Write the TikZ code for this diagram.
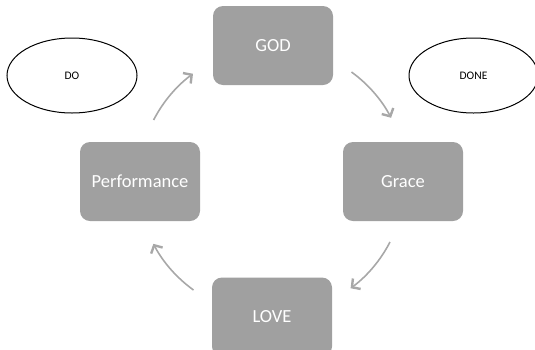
\documentclass[tikz,border=0pt]{standalone}
\usepackage{fontspec}
\setmainfont{Carlito}
\usetikzlibrary{shapes.geometric,arrows.meta,calc}
\definecolor{boxgray}{RGB}{160,160,160}
\definecolor{arrowgray}{RGB}{168,168,168}
\tikzset{
  cyclebox/.style={draw=none, fill=boxgray, rounded corners=10pt, minimum width=120pt, minimum height=79pt, inner sep=0pt, text=white, font=\fontsize{18.5}{20}\selectfont},
  oval/.style={draw=black, line width=1pt, ellipse, inner sep=0pt, font=\fontsize{11.5}{13}\selectfont},
  cyclearrow/.style={draw=arrowgray, line width=1.6pt, -{Straight Barb[length=6pt,width=13pt,line width=2.4pt]}}
}
\begin{document}
\begin{tikzpicture}[x=1pt,y=-1pt]
\useasboundingbox (0,0) rectangle (535,349);
\clip (0,0) rectangle (535,349);
\node[cyclebox] (god) at (273,45.5) {GOD};
\node[cyclebox] (perf) at (140,181.5) {Performance};
\node[cyclebox] (grace) at (403,181.5) {Grace};
\node[cyclebox] (love) at (272,317) {LOVE};
\node[oval, minimum width=130pt, minimum height=75pt] (do) at (72,75.5) {DO};
\node[oval, minimum width=129pt, minimum height=75pt] (done) at (473.5,75.5) {DONE};
\coordinate (c) at (272,181);
\coordinate (a1) at ($(c)+(-118.4,-61)$);
\coordinate (a2) at ($(c)+(79.5,-109)$);
\coordinate (a3) at ($(c)+(118,61)$);
\coordinate (a4) at ($(c)+(-78.5,109)$);
\draw[cyclearrow] (a1) arc[start angle=152.7, end angle=126.5, radius=134pt];
\draw[cyclearrow] (a2) arc[start angle=53.9, end angle=27.8, radius=134pt];
\draw[cyclearrow] (a3) arc[start angle=-27.3, end angle=-53.5, radius=134pt];
\draw[cyclearrow] (a4) arc[start angle=-125.8, end angle=-152.2, radius=134pt];
\end{tikzpicture}
\end{document}
